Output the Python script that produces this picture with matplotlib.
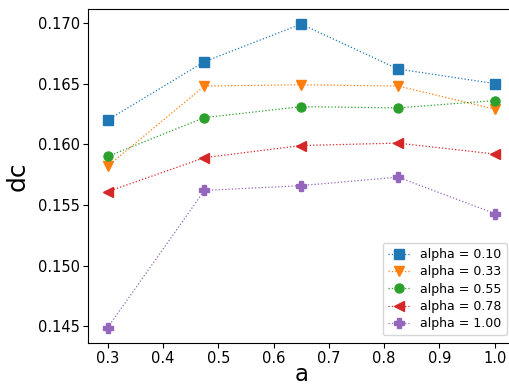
import numpy as np
import matplotlib.pyplot as plt

a = [0.3, 0.475, 0.65, 0.825, 1.0]
alphas = ["0.10", "0.33", "0.55", "0.78", "1.00"]
dc_010 = [0.1620, 0.1668, 0.1699, 0.1662, 0.1650]
dc_033 = [0.1582, 0.1648, 0.1649, 0.1648, 0.1629]
dc_055 = [0.1590, 0.1622, 0.1631, 0.1630, 0.1636]
dc_078 = [0.1561, 0.1589, 0.1599, 0.1601, 0.1592]
dc_100 = [0.1449, 0.1562, 0.1566, 0.1573, 0.1543]

series = [dc_010, dc_033, dc_055, dc_078, dc_100]
markers = ['s', 'v', 'o', '<', 'P']

fig = plt.figure(figsize=(5.1, 3.87), dpi=100)
ax = fig.add_axes([0.173, 0.114, 0.835, 0.863])

for vals, m, al in zip(series, markers, alphas):
    ax.plot(a, vals, linestyle=':', linewidth=0.9, marker=m, markersize=6.5,
            label='alpha = ' + al)

ax.set_xlabel('a', fontsize=16.5, labelpad=-2)
ax.set_ylabel('dc', fontsize=18, labelpad=6)
ax.tick_params(labelsize=10.5, pad=2.5)
ax.legend(loc='lower right', fontsize=9, handlelength=1.8, labelspacing=0.35,
          borderaxespad=0.6)

fig.savefig('out.png', dpi=100)
